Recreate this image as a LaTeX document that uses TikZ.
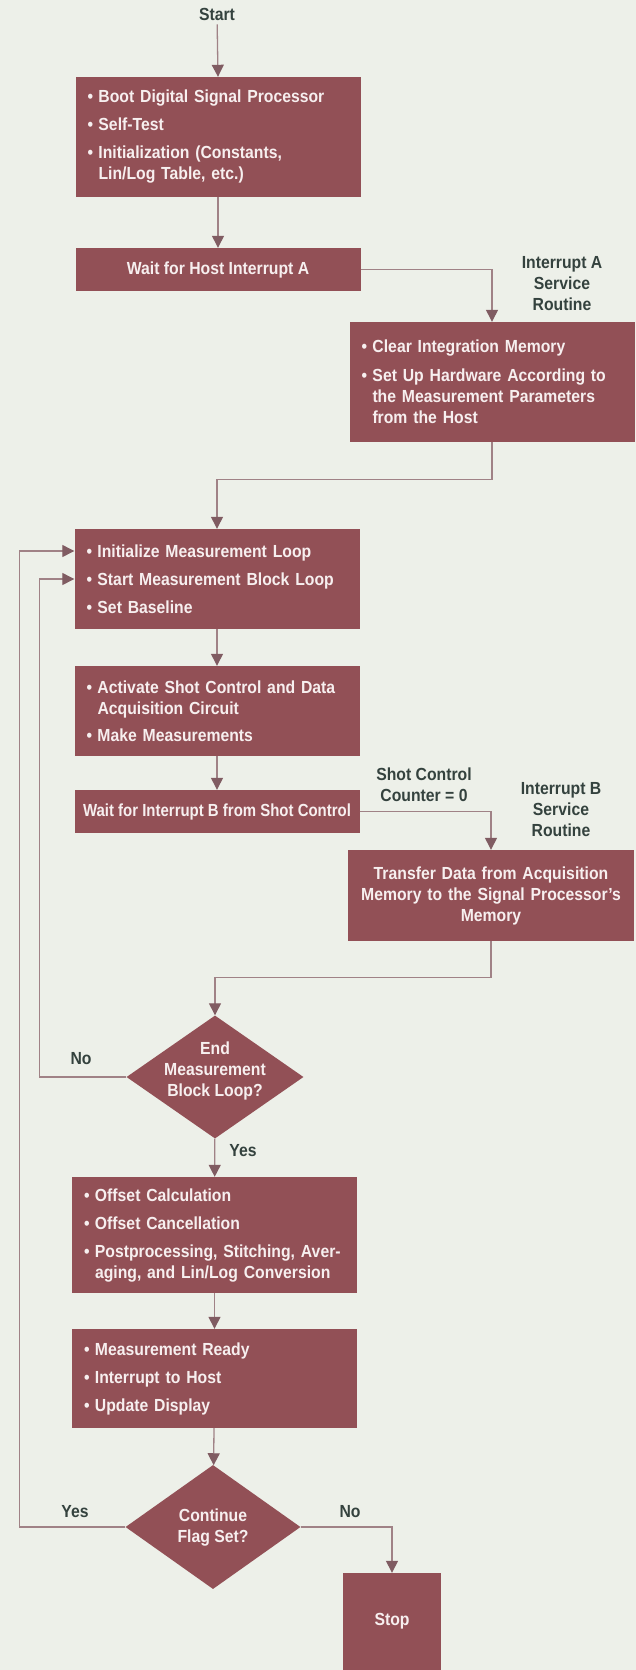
\documentclass[tikz,border=0pt]{standalone}
\usepackage{fontspec}
\setmainfont{Liberation Sans}[FakeStretch=0.9]
\usepackage{graphicx}
\usetikzlibrary{shapes.geometric,arrows.meta}

\definecolor{paper}{RGB}{237,240,233}
\definecolor{boxred}{RGB}{146,80,86}
\definecolor{boxtext}{RGB}{247,239,239}
\definecolor{wire}{RGB}{160,130,134}
\definecolor{tipred}{RGB}{128,92,98}
\definecolor{ink}{RGB}{52,66,62}

% bullet lines inside the boxes
\newcommand{\point}[1]{\makebox[11pt][l]{\textbullet}\mbox{#1}}
\newcommand{\more}[1]{\hspace*{11pt}\mbox{#1}}

\begin{document}
\begin{tikzpicture}[x=1pt, y=-1pt,
    font=\bfseries\fontsize{17.5}{21}\selectfont,
    box/.style={rectangle, fill=boxred, text=boxtext, inner xsep=12pt, inner ysep=0pt, minimum width=285pt},
    listbox/.style={box, align=left, text width=261pt},
    decision/.style={diamond, fill=boxred, inner sep=0pt},
    inside/.style={text=boxtext, align=center},
    note/.style={text=ink, align=center, inner sep=0pt},
    link/.style={draw=wire, line width=1.3pt},
    flow/.style={link, -{Triangle[width=12pt,length=12pt,color=tipred]}}]

    \useasboundingbox[fill=paper] (0,0) rectangle (636,1670);

    \node[note] (start) at (217,14) {Start};

    \node[listbox, minimum height=120pt] (boot) at (218,137) {\point{Boot Digital Signal Processor}\\[7pt] \point{Self-Test}\\[7pt] \point{Initialization (Constants,}\\ \more{Lin/Log Table, etc.)}};
    \node[box, minimum height=43pt] (waitA) at (218,269.5) {Wait for Host Interrupt A};

    \node[note] (isrAlabel) at (562,284) {Interrupt A\\Service\\Routine};
    \node[listbox, minimum height=120pt] (isrA) at (492,382) {\point{Clear Integration Memory}\\[8pt] \point{Set Up Hardware According to}\\ \more{the Measurement Parameters}\\ \more{from the Host}};

    \node[listbox, minimum height=100pt] (loop) at (217,579) {\point{Initialize Measurement Loop}\\[7pt] \point{Start Measurement Block Loop}\\[7pt] \point{Set Baseline}};
    \node[listbox, minimum height=90pt] (acq) at (217,711) {\point{Activate Shot Control and Data}\\ \more{Acquisition Circuit}\\[6pt] \point{Make Measurements}};
    \node[box, inner xsep=0pt, minimum height=43pt] (waitB) at (217,811.5) {\scalebox{0.95}[1]{Wait for Interrupt B from Shot Control}};

    \node[note] (counter) at (424,784.5) {Shot Control\\Counter = 0};
    \node[note] (isrBlabel) at (561,810) {Interrupt B\\Service\\Routine};
    \node[box, align=center, text width=262pt, minimum height=91pt] (xfer) at (491,895.5) {Transfer Data from Acquisition\\Memory to the Signal Processor's\\Memory};

    \node[decision, minimum width=177pt, minimum height=123pt,
          label={[inside, yshift=6pt]center:{End\\Measurement\\Block Loop?}}] (blockend) at (215,1077) {};
    \node[note] (noA) at (81,1059) {No};
    \node[note] (yesA) at (243,1151) {Yes};

    \node[listbox, minimum height=116pt] (offset) at (214.5,1235) {\point{Offset Calculation}\\[7pt] \point{Offset Cancellation}\\[7pt] \point{Postprocessing, Stitching, Aver-}\\ \more{aging, and Lin/Log Conversion}};
    \node[listbox, minimum height=99pt] (ready) at (214.5,1378.5) {\point{Measurement Ready}\\[7pt] \point{Interrupt to Host}\\[7pt] \point{Update Display}};

    \node[decision, minimum width=175pt, minimum height=124pt,
          label={[inside]center:{Continue\\Flag Set?}}] (again) at (213,1527) {};
    \node[note] (yesB) at (75,1512) {Yes};
    \node[note] (noB) at (350,1512) {No};
    \node[box, minimum width=98pt, minimum height=97pt] (stop) at (392,1621.5) {Stop};

    % main path
    \draw[flow, shorten <=4pt] (start) -- (boot.north);
    \draw[flow] (boot) -- (waitA);
    \draw[flow] (waitA.east) -| (isrA.north);
    \draw[flow] (isrA.south) -- ++(0,37) -| (loop.north);
    \draw[flow] (loop) -- (acq);
    \draw[flow] (acq) -- (waitB);
    \draw[flow] (waitB.east) -| (xfer.north);
    \draw[flow] (xfer.south) -- ++(0,36) -| (blockend.north);
    \draw[flow] (blockend) -- (offset);
    \draw[flow] (offset) -- (ready);
    \draw[flow] (ready) -- (again);
    \draw[flow] (again.east) -| (stop.north);

    % loops back
    \draw[flow] (blockend.west) -- ++(-87,0) |- (loop.west);
    \draw[flow] (again.west) -- ++(-106,0) |- ([yshift=28pt]loop.west);
\end{tikzpicture}
\end{document}
